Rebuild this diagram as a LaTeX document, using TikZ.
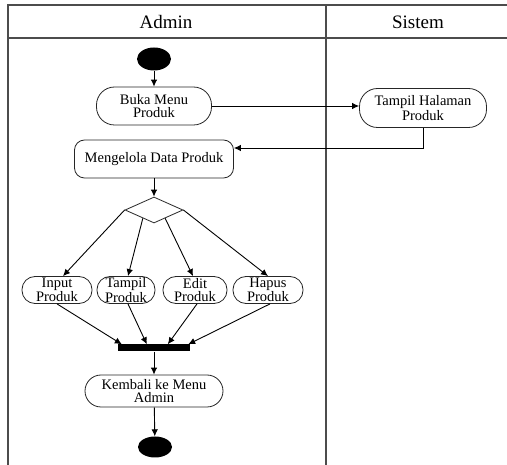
\documentclass[tikz,border=0pt]{standalone}
\usepackage{fontspec}
\setmainfont{Liberation Serif}
\usetikzlibrary{shapes.geometric,arrows.meta,calc}
\begin{document}
\begin{tikzpicture}[x=1pt,y=-1pt,
  lane/.style={draw=black!70,line width=1.3pt},
  act/.style={draw=black!85,line width=0.8pt,rectangle,inner sep=0pt,align=center,
    font=\fontsize{14.5}{13}\selectfont},
  flow/.style={draw=black,line width=0.9pt,-{Latex[length=7pt,width=6.5pt]}},
  dot/.style={ellipse,fill=black,inner sep=0pt},
  hdr/.style={font=\fontsize{19}{20}\selectfont}]
\useasboundingbox (0,0) rectangle (507,465);
% swimlanes
\draw[lane] (8,465) -- (8,5) -- (507,5);
\draw[lane] (8,38) -- (507,38);
\draw[lane] (326,5) -- (326,465);
\node[hdr] (hadmin) at (166,22) {Admin};
\node[hdr] (hsistem) at (418,22) {Sistem};
% nodes
\node[dot,minimum width=34pt,minimum height=23pt] (start) at (154,59) {};
\node[act,rounded corners=18pt,minimum width=115pt,minimum height=38pt] (buka) at (154,106) {Buka Menu\\Produk};
\node[act,rounded corners=18pt,minimum width=127pt,minimum height=39pt] (tampilh) at (423,108) {Tampil Halaman\\Produk};
\node[act,rounded corners=10pt,minimum width=159pt,minimum height=38pt] (kelola) at (154,159) {Mengelola Data Produk};
\node[diamond,draw=black!85,line width=0.8pt,minimum width=58pt,minimum height=26pt,inner sep=0pt] (dec) at (154,210) {};
\node[act,rounded corners=13pt,minimum width=70pt,minimum height=27pt] (input) at (57,290) {Input\\Produk};
\node[act,rounded corners=13pt,minimum width=58pt,minimum height=27pt] (tampilp) at (126,290) {Tampil\\Produk};
\node[act,rounded corners=13pt,minimum width=64pt,minimum height=27pt] (edit) at (195,290) {Edit\\Produk};
\node[act,rounded corners=13pt,minimum width=70pt,minimum height=27pt] (hapus) at (268,290) {Hapus\\Produk};
\node[rectangle,fill=black,inner sep=0pt,minimum width=72pt,minimum height=7pt] (bar) at (154,348) {};
\node[act,rounded corners=16pt,minimum width=138pt,minimum height=32pt] (kembali) at (154,391) {Kembali ke Menu\\Admin};
\node[dot,minimum width=34pt,minimum height=21pt] (end) at (155,447) {};
% connectors
\draw[flow] (start) -- (buka);
\draw[flow] (buka.east) -- (buka.east -| tampilh.west);
\coordinate (kin) at ([yshift=11pt]kelola.east);
\draw[flow] (tampilh.south) |- (kin);
\draw[flow] (kelola) -- (dec);
\coordinate (dl) at ($(dec.west)!0.62!(dec.south)$);
\coordinate (dr) at ($(dec.east)!0.62!(dec.south)$);
\draw[flow] (dec.west) -- ([xshift=6pt]input.north);
\draw[flow] (dl) -- ([xshift=2pt]tampilp.north);
\draw[flow] (dr) -- ([xshift=-2pt]edit.north);
\draw[flow] (dec.east) -- (hapus.north);
\draw[flow] (input.south) -- ([xshift=4pt]bar.north west);
\draw[flow] ([xshift=2pt]tampilp.south) -- ([xshift=29pt]bar.north west);
\draw[flow] ([xshift=2pt]edit.south) -- ([xshift=50pt]bar.north west);
\draw[flow] ([xshift=2pt]hapus.south) -- ([xshift=-2pt]bar.north east);
\draw[flow] (bar) -- (kembali);
\draw[flow] (kembali) -- (end);
\end{tikzpicture}
\end{document}
